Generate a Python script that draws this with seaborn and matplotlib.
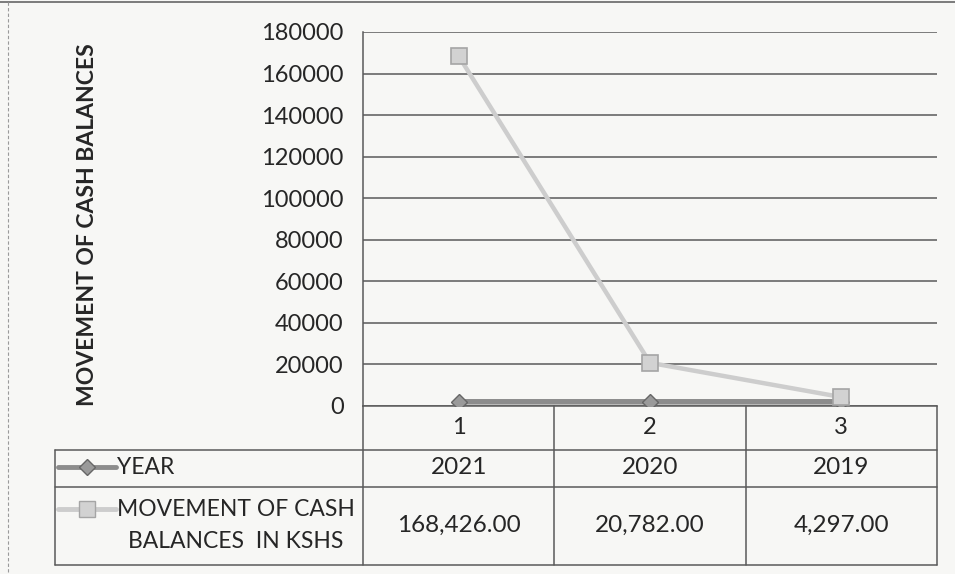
import matplotlib
matplotlib.use("Agg")
import matplotlib.pyplot as plt
import matplotlib.transforms as mtransforms
from matplotlib.lines import Line2D
import pandas as pd
import seaborn as sns

# data
periods = [1, 2, 3]
years = [2021, 2020, 2019]
cash_balances = [168426.00, 20782.00, 4297.00]
series_names = ["YEAR", "MOVEMENT OF CASH\nBALANCES  IN KSHS"]
y_ticks = [0, 20000, 40000, 60000, 80000, 100000, 120000, 140000, 160000, 180000]

sns.set_theme(style="white")
plt.rcParams["font.family"] = ["Lato", "DejaVu Sans"]

W, H = 955, 574
BG = "#f7f7f5"
GRID = "#5a5a5a"
TXT = "#262626"


def fx(px):
    return px / W


def fy(py):
    return 1 - py / H


fig = plt.figure(figsize=(W / 100, H / 100), dpi=100, facecolor=BG)
ax = fig.add_axes([fx(363), fy(406), fx(937 - 363), (406 - 32) / H])
ax.set_facecolor(BG)

df = pd.DataFrame({"period": periods, "year": years, "cash": cash_balances})

# YEAR series (dark diamonds) and cash series (light squares)
sns.lineplot(data=df, x="period", y="year", ax=ax, color="#8c8c8c", lw=4,
             marker="D", markersize=8, markerfacecolor="#9a9a9a",
             markeredgecolor="#666666", markeredgewidth=1, zorder=3)
sns.lineplot(data=df, x="period", y="cash", ax=ax, color="#cdcdcd", lw=3.2,
             marker="s", markersize=12, markerfacecolor="#d2d2d2",
             markeredgecolor="#a5a5a5", markeredgewidth=1.2, zorder=4)

ax.set_xlim(0.5, 3.5)
ax.set_ylim(0, 180000)
ax.set_yticks(y_ticks)
ax.set_yticklabels([str(v) for v in y_ticks], fontsize=17, color=TXT)
ax.set_xticks(periods)
ax.set_xticklabels([str(p) for p in periods], fontsize=17, color=TXT)
ax.tick_params(axis="y", length=0, pad=14)
ax.tick_params(axis="x", length=0, pad=8)
ax.grid(axis="y", color=GRID, lw=1.1)
ax.set_xlabel("")
ax.set_ylabel("")
for side in ["top", "right"]:
    ax.spines[side].set_visible(False)
ax.spines["left"].set_color(GRID)
ax.spines["bottom"].set_color(GRID)
ax.spines["left"].set_linewidth(1.1)
ax.spines["bottom"].set_linewidth(1.1)

fig.text(fx(88), fy(225), "MOVEMENT OF CASH BALANCES", rotation=90,
         ha="center", va="center", fontsize=16.5, fontweight="bold", color=TXT)

# data table under the plot
bt = mtransforms.blended_transform_factory(ax.transData, fig.transFigure)


def fig_line(xs, ys, **kw):
    fig.add_artist(Line2D([fx(x) for x in xs], [fy(y) for y in ys],
                          transform=fig.transFigure, color=GRID, lw=1.1, **kw))


fig_line([55, 937], [450, 450])
fig_line([55, 937], [487, 487])
fig_line([55, 937], [565, 565])
fig_line([55, 55], [450, 565])
fig_line([363, 363], [406, 565])
fig_line([937, 937], [406, 565])
for b in [1.5, 2.5]:
    fig.add_artist(Line2D([b, b], [fy(406), fy(565)], transform=bt,
                          color=GRID, lw=1.1))

for p, yr, c in zip(periods, years, cash_balances):
    fig.text(p, fy(467), str(yr), transform=bt, ha="center", va="center",
             fontsize=17.5, color=TXT)
    fig.text(p, fy(525), f"{c:,.2f}", transform=bt, ha="center", va="center",
             fontsize=17.5, color=TXT)

# legend keys inside the table
key_styles = [
    dict(color="#8c8c8c", marker="D", markersize=8, markerfacecolor="#9a9a9a",
         markeredgecolor="#666666"),
    dict(color="#cdcdcd", marker="s", markersize=11, markerfacecolor="#d2d2d2",
         markeredgecolor="#a5a5a5"),
]
key_rows = [467, 509]
for name, style, ry in zip(series_names, key_styles, key_rows):
    fig.add_artist(Line2D([fx(58), fx(87), fx(116)], [fy(ry)] * 3,
                          transform=fig.transFigure, lw=3.5, markevery=[1],
                          **style))
    first, *rest = name.split("\n")
    fig.text(fx(117), fy(ry), first, ha="left", va="center", fontsize=16.5,
             color=TXT)
    if rest:
        fig.text(fx(236), fy(ry + 33), rest[0], ha="center", va="center",
                 fontsize=16.5, color=TXT)

# scanned page frame
fig_line([0, 955], [2, 2])
fig.add_artist(Line2D([fx(8), fx(8)], [fy(2), fy(572)], transform=fig.transFigure,
                      color="#9a9a9a", lw=0.8, ls=(0, (3, 2))))

fig.savefig("out.png", dpi=100, facecolor=BG)
